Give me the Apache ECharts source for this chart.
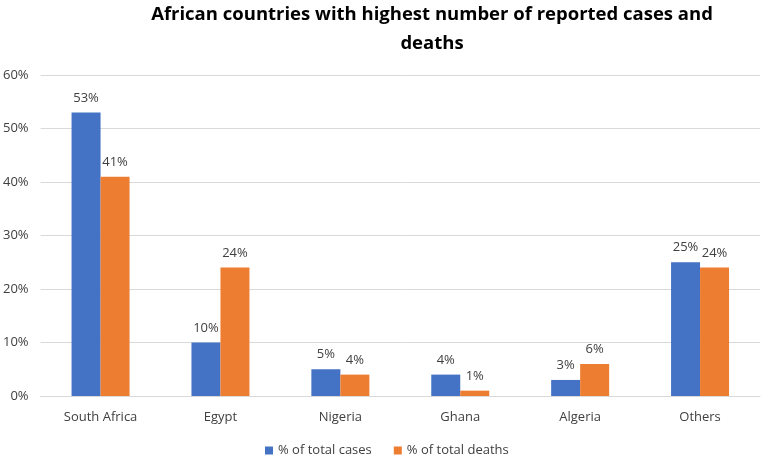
<!DOCTYPE html>
<html><head><meta charset="utf-8">
<script src="https://cdn.jsdelivr.net/npm/echarts@6/dist/echarts.min.js"></script>
<style>html,body{margin:0;padding:0;background:#fff}#c{width:762px;height:459px}</style>
</head><body><div id="c"></div>
<script>
const categories = ["South Africa","Egypt","Nigeria","Ghana","Algeria","Others"];
const casesPct = [53,10,5,4,3,25];
const deathsPct = [41,24,4,1,6,24];
const yTicks = [0,10,20,30,40,50,60];
const seriesNames = ["% of total cases","% of total deaths"];

const chart = echarts.init(document.getElementById('c'));
const font = '"Open Sans", "Liberation Sans", sans-serif';
chart.setOption({
  animation:false,
  title:{
    text:"African countries with highest number of reported cases and\ndeaths",
    left:427, top:-5, textAlign:'center',
    textStyle:{fontFamily:font,fontWeight:'bold',fontSize:18.5,lineHeight:29,color:'#000'}
  },
  legend:{
    data:seriesNames, top:439, left:260, itemWidth:8, itemHeight:8, itemGap:22, icon:'rect',
    textStyle:{fontFamily:font,fontSize:13,color:'#404040'}
  },
  grid:{left:40,right:2,top:75,bottom:63},
  xAxis:{
    type:'category', data:categories,
    axisLine:{lineStyle:{color:'#d9d9d9'}}, axisTick:{show:false},
    axisLabel:{fontFamily:font,fontSize:13,color:'#404040',margin:15}
  },
  yAxis:{
    type:'value', min:0, max:60, interval:10,
    axisLabel:{fontFamily:font,fontSize:13,color:'#404040',formatter:v=>v+'%',margin:12},
    splitLine:{lineStyle:{color:'#d9d9d9'}}, axisLine:{show:false}, axisTick:{show:false}
  },
  series:[
    {name:seriesNames[0],type:'bar',data:casesPct,barWidth:29,barGap:'0%',itemStyle:{color:'#4472C4'},
     label:{show:true,position:'top',distance:8,formatter:p=>p.value+'%',fontFamily:font,fontSize:13,color:'#404040'}},
    {name:seriesNames[1],type:'bar',data:deathsPct,barWidth:29,itemStyle:{color:'#ED7D31'},
     label:{show:true,position:'top',distance:8,formatter:p=>p.value+'%',fontFamily:font,fontSize:13,color:'#404040'}}
  ]
});
</script></body></html>
